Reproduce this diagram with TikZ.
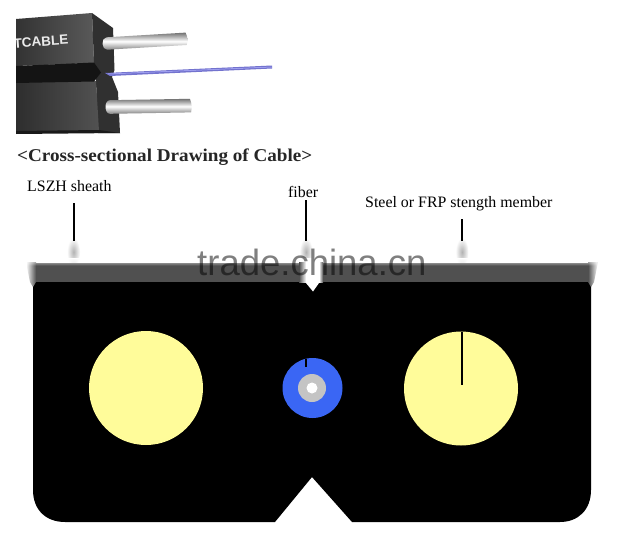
\documentclass[tikz,border=0pt]{standalone}
\usepackage{fontspec}
\setmainfont{Liberation Serif}
\newfontfamily\marksans{Liberation Sans}
\usetikzlibrary{calc,fadings}
\definecolor{sheathgrey}{HTML}{505050}
\definecolor{memberyellow}{HTML}{FFFC9A}
\definecolor{jacketblue}{HTML}{3A66F4}
\definecolor{bufferGrey}{HTML}{C4C4C4}
\definecolor{jacketside}{HTML}{303030}
\tikzset{
  callout/.style={font=\fontsize{15.9}{17}\selectfont, text=black, inner sep=0pt, anchor=base west},
  leader/.style={draw=black, line width=1.6pt},
  rodshade/.style={top color=black!55, bottom color=black!50, middle color=white},
  smudge/.style={inner color=black!30, outer color=white, draw=none},
}
\begin{document}
\begin{tikzpicture}[x=1pt,y=-1pt]
\useasboundingbox (0,0) rectangle (622,549);
\fill[white] (0,0) rectangle (622,549);

% Jacket faces of the cable
\shade[left color=black!80, right color=black!65]
  (16,19) -- (92,13) -- (94,63) -- (16,66) -- cycle;
\fill[jacketside] (92,13) -- (113,28) -- (114.5,70) -- (112,77) -- (118,92) -- (120,133) -- (98,133) -- (96,81) -- (94,63) -- cycle;
\shade[left color=black!82, right color=black!68]
  (16,82) -- (96,81) -- (99,131) -- (16,133) -- cycle;
\fill[black!92] (16,66) -- (94,62.5) -- (101,72.5) -- (94,81.5) -- (16,83) -- cycle;
\fill[black!90] (16,131) -- (99,130) -- (120,133) -- (16,134) -- cycle;
\begin{scope}
  \clip (16,19) rectangle (100,60);
  \node[rotate=4, font=\marksans\bfseries\fontsize{13.5}{15}\selectfont, text=black!8, inner sep=0pt] (brand) at (41,41.5) {TCABLE};
\end{scope}

% Steel rods, tilted slightly, with rounded ends
\begin{scope}[shift={(107,43.5)}, rotate=3.4]
  \shade[rodshade] (0,-6.2) -- (79,-6.2) .. controls (81,-2) and (81,2) .. (79.5,6.2)
    -- (0,6.2) .. controls (-6,6.2) and (-6,-6.2) .. (0,-6.2) -- cycle;
\end{scope}
\begin{scope}[shift={(110,107)}, rotate=1]
  \shade[rodshade] (0,-6.8) -- (80,-6.8) .. controls (82,-2) and (82,2) .. (81,6.8)
    -- (0,6.8) .. controls (-6,6.8) and (-6,-6.8) .. (0,-6.8) -- cycle;
\end{scope}

% Optical fibre leaving the groove
\fill[black!35!blue!55!white] (105,73) -- (272,65.5) -- (272,68.5) -- (110,76) -- cycle;
\draw[white!70!blue, line width=.5pt] (108,74) -- (272,67);

\node[xscale=1.063, font=\bfseries\fontsize{18}{20}\selectfont, text=black!85, inner sep=0pt, anchor=base west] (heading) at (17,161) {<Cross-sectional Drawing of Cable>};

% Blurred traces below each leader
\shade[smudge] (73.5,252) ellipse [x radius=6.5, y radius=14];
\shade[smudge] (306,252) ellipse [x radius=6.5, y radius=14];
\shade[smudge] (462,252) ellipse [x radius=6.5, y radius=14];

% Cable body with rounded lower corners and bottom notch
\fill[black] (33,282) -- (591,282) -- (591,490)
  .. controls (591,510) and (578,522) .. (560,522) -- (352,522) -- (312,477) -- (275,522) -- (65,522)
  .. controls (46,522) and (33,510) .. (33,490) -- cycle;

% Soft grey band along the top of the body
\fill[sheathgrey] (33,263) rectangle (591,282);
\shade[left color=white, right color=sheathgrey] (26,262) -- (36,262) -- (36,282) -- (33,287) -- (30,282) -- cycle;
\shade[left color=sheathgrey, right color=white] (588,262) -- (598,262) -- (594,282) -- (591,287) -- (588,282) -- cycle;
\fill[white, path fading=south] (26,258) rectangle (598,265.5);

% White slit reaching into the body at the fibre position
\shade[left color=sheathgrey, right color=white] (299,262) rectangle (306,282);
\fill[white] (306,258) -- (319,258) -- (319,283) -- (313,291.5) -- (306,283) -- cycle;
\shade[left color=white, right color=sheathgrey] (319,262) rectangle (323,282);

% Strength members
\fill[memberyellow] (146,388) circle [radius=57];
\node[circle, fill=memberyellow, minimum size=114pt, inner sep=0pt] (rightmember) at (461,388.5) {};

% Fibre cross-section
\node[circle, fill=jacketblue, minimum size=60pt, inner sep=0pt] (jacket) at (312.5,388) {};
\fill[bufferGrey] (312,388) circle [radius=14];
\fill[white] (312,388) circle [radius=5.5];

% Labels and leaders
\node[callout] (lszh) at (27,191) {LSZH sheath};
\node[callout] (fiberlabel) at (288,197) {fiber};
\node[callout] (steel) at (365,207) {Steel or FRP stength member};

\coordinate (lszhtop) at (74,203);
\coordinate (lszhend) at (74,241);
\coordinate (fibertop) at (306,200);
\coordinate (fiberend) at (306,241);
\coordinate (steeltop) at (462,219);
\coordinate (steelend) at (462,241);
\coordinate (membertop) at (462,332);
\coordinate (memberend) at (462,385);
\coordinate (coretop) at (306,359);
\coordinate (coreend) at (306,367);
\draw[leader] (lszhtop) -- (lszhend);
\draw[leader] (fibertop) -- (fiberend);
\draw[leader] (steeltop) -- (steelend);
\draw[leader] (membertop) -- (memberend);
\draw[leader] (coretop) -- (coreend);

% Site mark across the band
\node[font=\marksans\fontsize{36.5}{38}\selectfont, text=black, opacity=.5, inner sep=0pt, anchor=base west] (sitemark) at (197,275) {trade.china.cn};
\end{tikzpicture}
\end{document}
